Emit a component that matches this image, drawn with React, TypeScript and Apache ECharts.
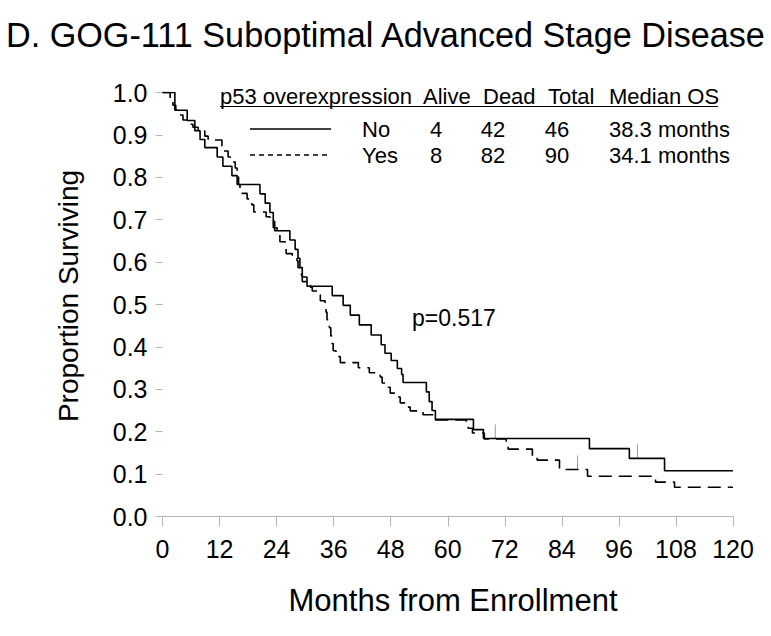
import React, { useEffect, useRef } from "react";
import * as echarts from "echarts";

const FONT = "'Liberation Sans', Arial, Helvetica, sans-serif";

const xTicks = [0, 12, 24, 36, 48, 60, 72, 84, 96, 108, 120];

// p53 overexpression = No (solid)
const noTimes = [0, 2.6, 5.2, 6.8, 7.9, 8.9, 11.5, 12.7, 14.6, 15.7, 20.5, 21.6, 22.6, 23.3, 23.6, 26.8, 27.9, 28.5, 28.9, 29.4, 30.4, 35.7, 38.0, 39.5, 41.4, 43.9, 46.0, 46.8, 48.1, 49.4, 50.3, 50.6, 55.5, 56.1, 56.7, 57.4, 65.4, 67.5, 89.8, 98.2, 105.6, 120];
const noSurv = [1.0, 0.958, 0.934, 0.910, 0.889, 0.870, 0.848, 0.826, 0.804, 0.783, 0.761, 0.739, 0.717, 0.696, 0.674, 0.652, 0.630, 0.609, 0.587, 0.565, 0.543, 0.521, 0.498, 0.475, 0.452, 0.428, 0.405, 0.385, 0.368, 0.349, 0.335, 0.316, 0.294, 0.271, 0.250, 0.229, 0.205, 0.184, 0.160, 0.137, 0.108, 0.108];
const noCensorT = [70.0, 99.9];
const noCensorS = [0.184, 0.137];

// p53 overexpression = Yes (dashed)
const yesTimes = [0, 1.6, 2.2, 2.8, 3.5, 4.3, 5.2, 6.4, 7.5, 8.9, 9.6, 12.5, 12.9, 13.8, 14.6, 15.3, 15.7, 16.0, 16.3, 17.8, 18.8, 19.2, 21.8, 22.6, 23.3, 24.1, 24.7, 25.8, 26.0, 27.3, 28.3, 28.5, 28.9, 29.4, 31.1, 31.5, 32.7, 33.2, 34.2, 34.4, 34.6, 35.1, 35.4, 35.6, 35.9, 36.5, 37.4, 41.2, 43.5, 45.8, 46.2, 47.5, 47.9, 49.4, 50.0, 51.5, 52.1, 54.8, 57.4, 63.9, 64.3, 65.2, 67.7, 72.3, 72.7, 77.8, 78.8, 83.5, 89.4, 103.7, 107.7, 120];
const yesSurv = [1.0, 0.982, 0.970, 0.958, 0.947, 0.935, 0.925, 0.918, 0.909, 0.897, 0.888, 0.874, 0.862, 0.848, 0.836, 0.822, 0.804, 0.783, 0.762, 0.749, 0.735, 0.718, 0.707, 0.693, 0.681, 0.664, 0.648, 0.634, 0.620, 0.612, 0.603, 0.587, 0.571, 0.554, 0.541, 0.532, 0.523, 0.509, 0.499, 0.482, 0.464, 0.445, 0.426, 0.408, 0.391, 0.377, 0.363, 0.351, 0.339, 0.329, 0.315, 0.305, 0.291, 0.282, 0.268, 0.258, 0.249, 0.240, 0.228, 0.218, 0.208, 0.197, 0.183, 0.169, 0.159, 0.140, 0.133, 0.111, 0.095, 0.081, 0.069, 0.069];
const yesCensorT = [87.3];
const yesCensorS = [0.111];

const legendHeaders = ["p53 overexpression", "Alive", "Dead", "Total", "Median OS"];
const legendGroups = ["No", "Yes"];
const legendAlive = ["4", "8"];
const legendDead = ["42", "82"];
const legendTotal = ["46", "90"];
const legendMedian = ["38.3 months", "34.1 months"];
const pValueText = "p=0.517";

export default function App() {
  const ref = useRef<HTMLDivElement>(null);
  useEffect(() => {
    if (!ref.current) return;
    const chart = echarts.init(ref.current, null, { renderer: "svg" });
    const noData = noTimes.map((t, i) => [t, noSurv[i]]);
    const yesData = yesTimes.map((t, i) => [t, yesSurv[i]]);
    const censorRender = (params: any, api: any) => {
      const p = api.coord([api.value(0), api.value(1)]);
      return {
        type: "line",
        shape: { x1: p[0], y1: p[1], x2: p[0], y2: p[1] - 14 },
        style: { stroke: "#9a9a9a", lineWidth: 1 },
      };
    };
    const txt = (text: string, x: number, y: number, size: number, align = "left", rotation = 0) => ({
      type: "text",
      x,
      y,
      rotation,
      silent: true,
      style: { text, fontSize: size, fontFamily: FONT, fill: "#000", align, verticalAlign: "middle" },
    });
    const headerX = [220, 423, 483, 548, 609];
    const rowY = [129, 155];
    const graphics: any[] = [];
    legendHeaders.forEach((h, i) => graphics.push(txt(h, headerX[i], 96, 22)));
    graphics.push({ type: "line", silent: true, shape: { x1: 220, y1: 106.5, x2: 718, y2: 106.5 }, style: { stroke: "#000", lineWidth: 1.2 } });
    legendGroups.forEach((g, i) => {
      graphics.push({
        type: "line",
        silent: true,
        shape: { x1: 250, y1: rowY[i], x2: 331, y2: rowY[i] },
        style: { stroke: "#000", lineWidth: 1.3, lineDash: i === 0 ? null : [5, 4] },
      });
      graphics.push(txt(g, 362, rowY[i], 22));
      graphics.push(txt(legendAlive[i], 436, rowY[i], 22, "center"));
      graphics.push(txt(legendDead[i], 493, rowY[i], 22, "center"));
      graphics.push(txt(legendTotal[i], 557, rowY[i], 22, "center"));
      graphics.push(txt(legendMedian[i], 609, rowY[i], 22));
    });
    graphics.push(txt(pValueText, 412, 318, 23));
    graphics.push(txt("Proportion Surviving", 68, 296, 28, "center", Math.PI / 2));
    graphics.push(txt("Months from Enrollment", 453, 600, 31, "center"));

    chart.setOption({
      animation: false,
      backgroundColor: "#fff",
      title: {
        text: "D. GOG-111 Suboptimal Advanced Stage Disease",
        left: 6,
        top: 15,
        padding: 0,
        textStyle: { fontSize: 34.2, fontWeight: "normal", color: "#000", fontFamily: FONT, lineHeight: 40 },
      },
      grid: { left: 162.5, right: 38, top: 92.5, bottom: 119.5, containLabel: false },
      xAxis: {
        type: "value",
        min: 0,
        max: 120,
        interval: 12,
        axisLine: { show: true, lineStyle: { color: "#b5b5b5", width: 1 } },
        axisTick: { show: true, length: 10, lineStyle: { color: "#b5b5b5" } },
        splitLine: { show: false },
        axisLabel: {
          fontSize: 25,
          color: "#000",
          fontFamily: FONT,
          margin: 20,
          formatter: (v: number) => (xTicks.includes(v) ? String(v) : ""),
        },
      },
      yAxis: {
        type: "value",
        min: 0,
        max: 1,
        interval: 0.1,
        axisLine: { show: false },
        axisTick: { show: true, length: 7, lineStyle: { color: "#b5b5b5" } },
        splitLine: { show: false },
        axisLabel: { fontSize: 25, color: "#000", fontFamily: FONT, margin: 15, formatter: (v: number) => v.toFixed(1) },
      },
      graphic: graphics,
      series: [
        {
          type: "line",
          step: "end",
          data: noData,
          symbol: "none",
          lineStyle: { color: "#000", width: 1.6 },
          z: 3,
        },
        {
          type: "line",
          step: "end",
          data: yesData,
          symbol: "none",
          lineStyle: { color: "#000", width: 1.6, type: [13, 7] },
          z: 3,
        },
        {
          type: "custom",
          renderItem: censorRender,
          data: noCensorT.map((t, i) => [t, noCensorS[i]]),
          z: 2,
        },
        {
          type: "custom",
          renderItem: censorRender,
          data: yesCensorT.map((t, i) => [t, yesCensorS[i]]),
          z: 2,
        },
      ],
    });
    return () => chart.dispose();
  }, []);
  return <div ref={ref} style={{ position: "fixed", left: 0, top: 0, width: 771, height: 636, background: "#fff" }} />;
}
